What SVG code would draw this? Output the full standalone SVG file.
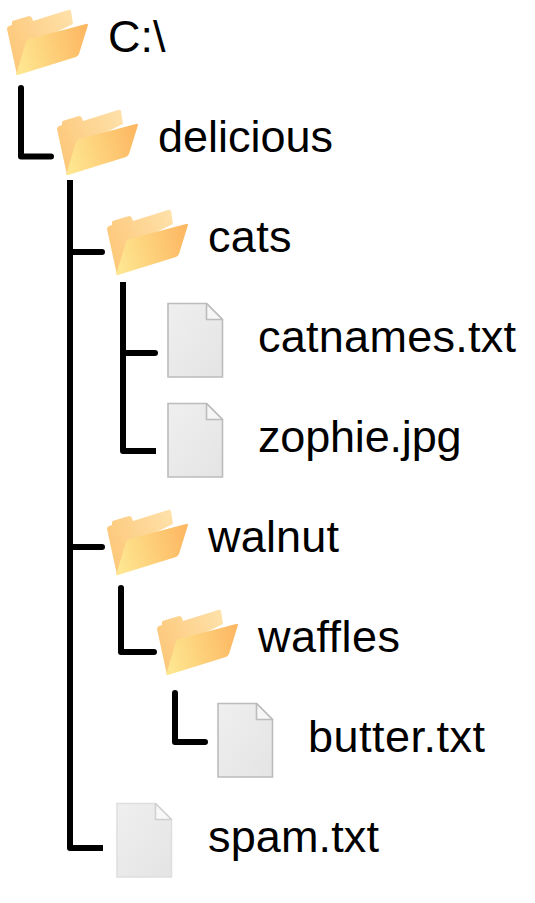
<svg xmlns="http://www.w3.org/2000/svg" width="535" height="903" viewBox="0 0 535 903">
<style>
text{font-family:"Liberation Sans",Arial,sans-serif;font-size:45px;fill:#000}
.c{fill:none;stroke:#000;stroke-width:6;stroke-linecap:round;stroke-linejoin:round}
.s{stroke-linecap:butt}
</style>
<defs>
<linearGradient id="back" x1="0" y1="0.6" x2="1" y2="0.2"><stop offset="0" stop-color="#fdc87a"/><stop offset="1" stop-color="#fee0a8"/></linearGradient>
<linearGradient id="front" x1="0" y1="0.6" x2="1" y2="0.4"><stop offset="0" stop-color="#fee690"/><stop offset="1" stop-color="#fdb863"/></linearGradient>
<linearGradient id="paper" x1="0" y1="0" x2="1" y2="1"><stop offset="0" stop-color="#efefef"/><stop offset="1" stop-color="#e4e4e4"/></linearGradient>
<g id="folder">
<path d="M7 29Q7 27 9 26L12 25V22Q12 21 14 20.500L29 16Q31 16 32 18L33 21L68 10Q70 9 71 11L73 24L40 40L17 75Z" fill="url(#back)"/>
<path d="M16 75L26 42Q27 40 29 39L86 24Q88 23 88 25L79 54Q78 56 76 57L18 75Z" fill="url(#front)"/>
</g>
<g id="file">
<path d="M0.500 0.500H39L55 16.500V74H0.500Z" fill="url(#paper)" stroke="#bcbcbc" stroke-width="1.600"/>
<path d="M39 0.500V16.500H55Z" fill="#f6f6f6" stroke="#bcbcbc" stroke-width="1.600" stroke-linejoin="round"/>
</g>
<g id="fileLight">
<path d="M0.500 0.500H39L55 16.500V74H0.500Z" fill="url(#paper)" stroke="#dedede" stroke-width="1.500"/>
<path d="M39 0.500V16.500H55Z" fill="#f8f8f8" stroke="#cfcfcf" stroke-width="1.500" stroke-linejoin="round"/>
</g>
</defs>
<g id="connectors">
<path class="c" d="M21 88V156.500H51"/>
<path class="c s" d="M70 180V848H103"/>
<path class="c" d="M70 252H102M70 547H102"/>
<path class="c s" d="M123 282V451H156"/>
<path class="c" d="M123 353H155"/>
<path class="c" d="M121 588V652H154"/>
<path class="c" d="M175 693V742H205"/>
</g>
<g id="node-c"><use href="#folder"/><text x="108" y="52">C:\</text></g>
<g id="node-delicious"><use href="#folder" x="50" y="100"/><text x="158" y="152">delicious</text></g>
<g id="node-cats"><use href="#folder" x="100" y="200"/><text x="208" y="252" textLength="83.500">cats</text></g>
<g id="node-catnames"><use href="#file" x="167.500" y="303"/><text x="258" y="352" textLength="258">catnames.txt</text></g>
<g id="node-zophie"><use href="#file" x="167.500" y="403"/><text x="258" y="452" textLength="203.500">zophie.jpg</text></g>
<g id="node-walnut"><use href="#folder" x="100" y="500"/><text x="208" y="552" textLength="131">walnut</text></g>
<g id="node-waffles"><use href="#folder" x="150" y="600"/><text x="258" y="652" textLength="142">waffles</text></g>
<g id="node-butter"><use href="#file" x="217.500" y="703"/><text x="308" y="752" textLength="177">butter.txt</text></g>
<g id="node-spam"><use href="#fileLight" x="116.500" y="803"/><text x="208" y="852" textLength="171">spam.txt</text></g>
</svg>
